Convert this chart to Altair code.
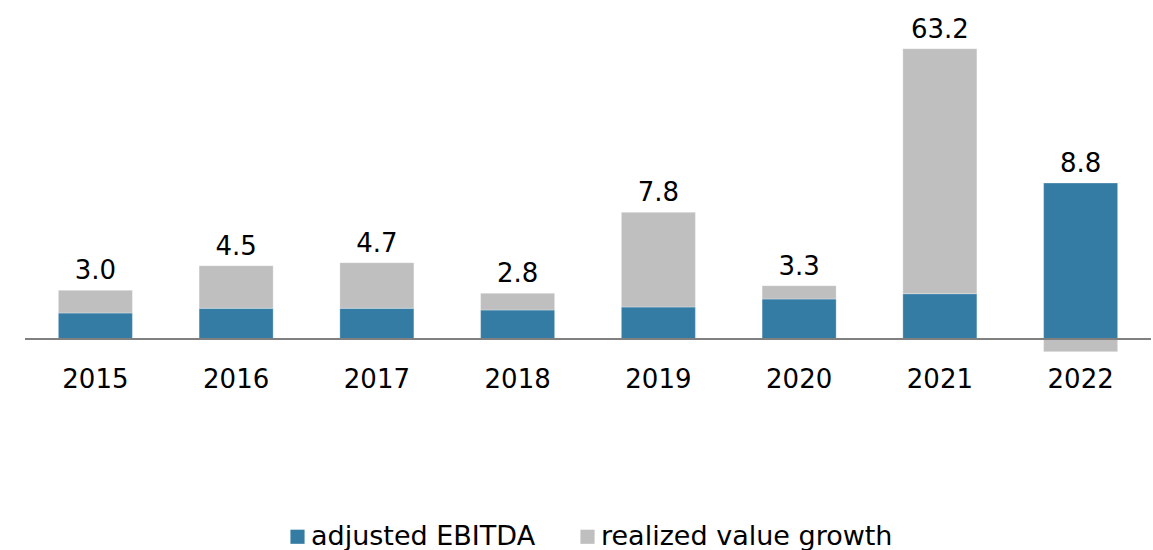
import altair as alt
import pandas as pd

years = ["2015", "2016", "2017", "2018", "2019", "2020", "2021", "2022"]
ebitda = [2.60, 3.07, 3.07, 2.90, 3.20, 4.00, 4.53, 15.60]
growth = [2.27, 4.26, 4.56, 1.67, 9.47, 1.33, 24.50, -1.27]
labels = ["3.0", "4.5", "4.7", "2.8", "7.8", "3.3", "63.2", "8.8"]

series = ["adjusted EBITDA", "realized value growth"]
colors = ["#357ca4", "#bfbfbf"]

rows = []
for y, e, g in zip(years, ebitda, growth):
    rows.append({"year": y, "series": series[0], "value": e, "ord": 0})
    rows.append({"year": y, "series": series[1], "value": g, "ord": 1})
df = pd.DataFrame(rows)

lab = pd.DataFrame({
    "year": years,
    "top": [e + max(g, 0) for e, g in zip(ebitda, growth)],
    "label": labels,
})

FONT = "DejaVu Sans"

x = alt.X("year:N", sort=years, title=None,
          scale=alt.Scale(paddingInner=0.474, paddingOuter=0.237),
          axis=alt.Axis(domain=False, ticks=False, labelAngle=0, labelFontSize=26,
                        labelFont=FONT, labelColor="#000000", labelPadding=6))
yscale = alt.Scale(domain=[-2.1, 33.9], nice=False, zero=False)

bars = alt.Chart(df).mark_bar(stroke="white", strokeWidth=0.5, strokeOpacity=0.6).encode(
    x=x,
    y=alt.Y("value:Q", stack="zero", scale=yscale, axis=None),
    color=alt.Color("series:N", sort=series,
                    scale=alt.Scale(domain=series, range=colors),
                    legend=alt.Legend(title=None, orient="none", direction="horizontal",
                                      legendX=259, legendY=523, symbolType="square",
                                      symbolSize=200, symbolStrokeWidth=0,
                                      labelFontSize=27, labelFont=FONT, labelColor="#000000",
                                      labelOffset=0, labelLimit=600, columnPadding=38,
                                      padding=0)),
    order=alt.Order("ord:Q"),
)

zero = alt.Chart(pd.DataFrame({"z": [0]})).mark_rule(color="#808080", strokeWidth=2).encode(
    y=alt.Y("z:Q", scale=yscale)
)

text = alt.Chart(lab).mark_text(baseline="bottom", dy=-6, fontSize=26, font=FONT,
                                color="#000000").encode(
    x=alt.X("year:N", sort=years),
    y=alt.Y("top:Q", scale=yscale),
    text="label:N",
)

chart = alt.layer(bars, zero, text).properties(
    width=1126, height=360,
    autosize=alt.AutoSizeParams(type="none"),
    padding={"left": 25, "top": 0, "right": 2, "bottom": 190},
).configure_view(stroke=None)

chart.save("out.html", embed_options={"renderer": "svg", "actions": False})
